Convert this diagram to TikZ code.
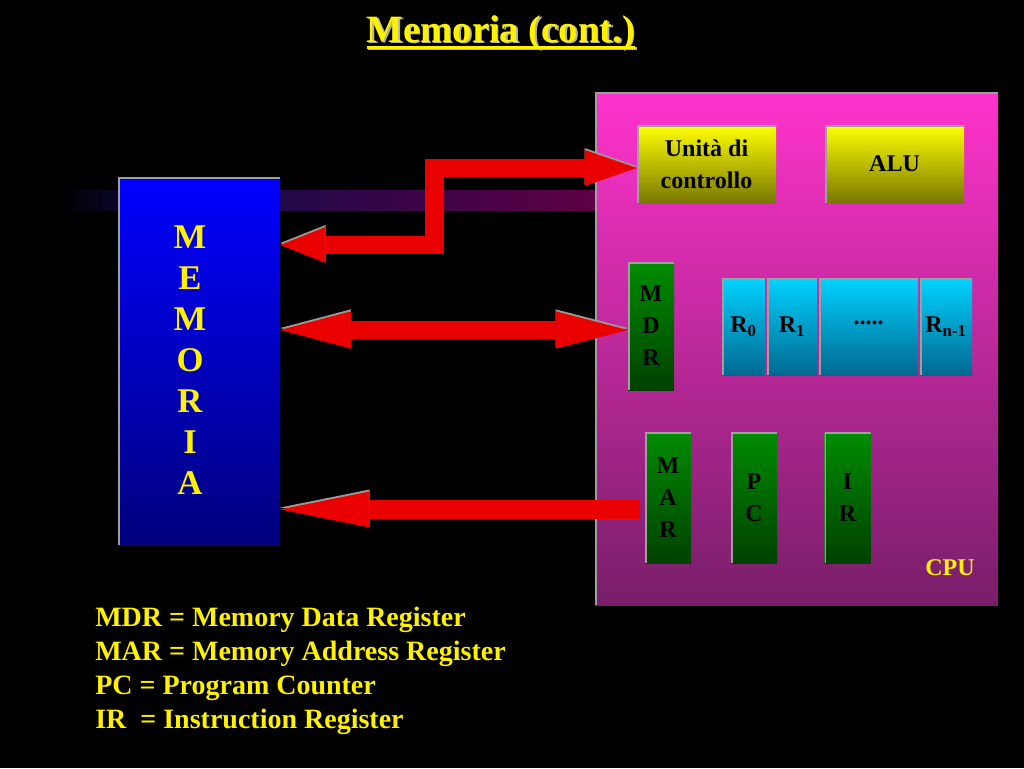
\documentclass[tikz,border=0pt]{standalone}
\usepackage{fontspec}
\setmainfont{Liberation Serif}
\usepackage{xcolor}
\usetikzlibrary{arrows.meta}

\definecolor{memtop}{RGB}{0,0,255}
\definecolor{membot}{RGB}{0,0,125}
\definecolor{cputop}{RGB}{255,51,204}
\definecolor{cpubot}{RGB}{120,30,105}
\definecolor{cutop}{RGB}{255,255,0}
\definecolor{cubot}{RGB}{120,120,0}
\definecolor{regtop}{RGB}{0,210,255}
\definecolor{regbot}{RGB}{0,105,145}
\definecolor{grntop}{RGB}{0,140,0}
\definecolor{grnbot}{RGB}{0,65,0}
\definecolor{busred}{RGB}{235,0,0}
\definecolor{bandleft}{RGB}{12,8,55}
\definecolor{bandmid}{RGB}{32,8,72}
\definecolor{bandright}{RGB}{95,0,70}
\pgfdeclarehorizontalshading{bandshade}{100bp}{color(0bp)=(black); color(25bp)=(black);
  color(32bp)=(bandleft); color(45bp)=(bandmid); color(75bp)=(bandright); color(100bp)=(bandright)}

\begin{document}
\begin{tikzpicture}[x=0.75pt,y=-0.75pt,
  edge3d/.style={path picture={\draw[gray!75,line width=2.5pt]
    (path picture bounding box.south west) -- (path picture bounding box.north west)
    -- (path picture bounding box.north east);}},
  box/.style={edge3d,inner sep=0pt,align=center,font=\fontsize{18}{24}\selectfont\bfseries},
  membox/.style={box,top color=memtop,bottom color=membot},
  cpubox/.style={box,top color=cputop,bottom color=cpubot},
  unitbox/.style={box,top color=cutop,bottom color=cubot,minimum width=104.25pt,minimum height=58.5pt},
  regbox/.style={box,top color=regtop,bottom color=regbot,minimum height=72.75pt},
  grnbox/.style={box,top color=grntop,bottom color=grnbot,minimum width=34.5pt},
  bus/.style={draw=busred,line width=14pt,
    preaction={draw=gray!80,transform canvas={yshift=1.5pt}}},
  yellowtxt/.style={text=yellow,inner sep=0pt}
]
\fill[black] (0,0) rectangle (1024,768);

% title
\node[yellowtxt,text=gray!60,font=\fontsize{29}{32}\selectfont\bfseries] at (502.5,34.5) {Memoria (cont.)};
\node[yellowtxt,font=\fontsize{29}{32}\selectfont\bfseries] (title) at (501,33) {Memoria (cont.)};
\draw[gray!60,line width=2pt] ([shift={(1.5,6.5)}]title.base west) -- ([shift={(1.5,6.5)}]title.base east);
\draw[yellow,line width=2pt] ([shift={(0,5)}]title.base west) -- ([shift={(0,5)}]title.base east);

\shade[shading=bandshade] (60,190) rectangle (595,210);

% CPU
\node[cpubox,minimum width=302.25pt,minimum height=384.75pt] (cpu) at (796.5,348.5) {};
\node[unitbox] (cu) at (706.5,164) {Unità di\\controllo};
\node[unitbox] (alu) at (894.5,164) {ALU};
\node[grnbox,minimum height=96pt] (mdr) at (651,326) {M\\D\\R};
\node[regbox,minimum width=32.25pt] (r0) at (743.5,326.5) {R\textsubscript{0}};
\node[regbox,minimum width=37.5pt] (r1) at (792,326.5) {R\textsubscript{1}};
\node[regbox,minimum width=74.25pt] (rdots) at (868.5,326.5) {\raisebox{6pt}{.....}};
\node[regbox,minimum width=39pt] (rn) at (946,326.5) {R\textsubscript{n-1}};
\node[grnbox,minimum height=98.25pt] (mar) at (668,497.5) {M\\A\\R};
\node[grnbox,minimum height=98.25pt] (pc) at (754,497.5) {P\\C};
\node[grnbox,minimum height=98.25pt] (ir) at (847.5,497.5) {I\\R};
\node[yellowtxt,font=\fontsize{18}{22}\selectfont\bfseries] (cpulbl) at (950,568) {CPU};

% memoria
\node[membox,minimum width=121.5pt,minimum height=276pt] (mem) at (199,361) {};
\node[yellowtxt,align=center,font=\fontsize{26}{30.75}\selectfont\bfseries] (memtxt) at (190,360)
  {M\\E\\M\\O\\R\\I\\A};

% bus
\coordinate (knee) at (434.5,245);
\draw[bus,{Triangle[length=34pt,width=27pt,line width=0pt]}-{Triangle[length=39pt,width=27pt,line width=0pt]}]
  (knee -| mem.east) -- (knee) |- ([shift={(0,4)}]cu.west);
\draw[bus,{Triangle[length=53pt,width=28pt,line width=0pt]}-{Triangle[length=54pt,width=28pt,line width=0pt]}]
  ([shift={(0,4)}]mdr.west -| mem.east) -- ([shift={(0,4)}]mdr.west);
\draw[bus,-{Triangle[length=67pt,width=27pt,line width=0pt]}]
  ([shift={(-5,12)}]mar.west) -- ([shift={(0,12)}]mar.west -| mem.east);

% legend
\node[yellowtxt,anchor=north west,align=left,font=\fontsize{21}{25.5}\selectfont\bfseries] (legend) at (95,607)
  {MDR = Memory Data Register\\MAR = Memory Address Register\\PC = Program Counter\\IR\ \ = Instruction Register};
\end{tikzpicture}
\end{document}
